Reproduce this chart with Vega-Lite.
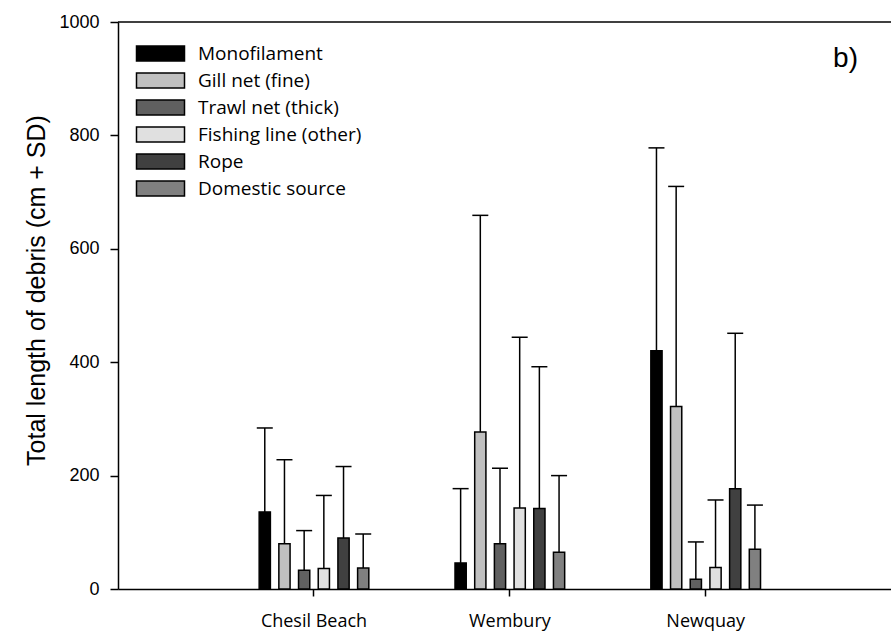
{
  "$schema": "https://vega.github.io/schema/vega-lite/v6.json",
  "width": 773,
  "height": 567,
  "autosize": "none",
  "padding": {"left": 118, "top": 22, "right": 0, "bottom": 48},
  "background": "white",
  "config": {"view": {"stroke": null}},
  "title": {"text": "b)", "orient": "top", "anchor": "end", "frame": "group", "offset": -60, "dx": -33, "fontSize": 28, "font": "Liberation Sans", "fontWeight": "normal", "color": "black"},
  "data": {"values": [
    {"site": "Chesil Beach", "type": "Monofilament", "total": 136, "upper": 284},
    {"site": "Chesil Beach", "type": "Gill net (fine)", "total": 80, "upper": 228},
    {"site": "Chesil Beach", "type": "Trawl net (thick)", "total": 33, "upper": 103},
    {"site": "Chesil Beach", "type": "Fishing line (other)", "total": 36, "upper": 165},
    {"site": "Chesil Beach", "type": "Rope", "total": 90, "upper": 216},
    {"site": "Chesil Beach", "type": "Domestic source", "total": 37, "upper": 97},
    {"site": "Wembury", "type": "Monofilament", "total": 46, "upper": 177},
    {"site": "Wembury", "type": "Gill net (fine)", "total": 277, "upper": 659},
    {"site": "Wembury", "type": "Trawl net (thick)", "total": 80, "upper": 213},
    {"site": "Wembury", "type": "Fishing line (other)", "total": 143, "upper": 444},
    {"site": "Wembury", "type": "Rope", "total": 142, "upper": 392},
    {"site": "Wembury", "type": "Domestic source", "total": 65, "upper": 200},
    {"site": "Newquay", "type": "Monofilament", "total": 420, "upper": 778},
    {"site": "Newquay", "type": "Gill net (fine)", "total": 322, "upper": 710},
    {"site": "Newquay", "type": "Trawl net (thick)", "total": 17, "upper": 83},
    {"site": "Newquay", "type": "Fishing line (other)", "total": 38, "upper": 157},
    {"site": "Newquay", "type": "Rope", "total": 177, "upper": 451},
    {"site": "Newquay", "type": "Domestic source", "total": 70, "upper": 148}
  ]},
  "layer": [
    {
      "mark": {"type": "bar", "stroke": "black", "strokeWidth": 1.5},
      "encoding": {
        "x": {"field": "site", "type": "nominal", "sort": ["Chesil Beach", "Wembury", "Newquay"],
          "scale": {"paddingInner": 0.239, "paddingOuter": 0.593, "align": 0.523},
          "axis": {"title": null, "labelAngle": 0, "labelFont": "Open Sans", "labelFontSize": 18, "labelColor": "black", "tickSize": 7, "tickColor": "black", "tickWidth": 1.5, "domainColor": "black", "domainWidth": 1.5, "labelPadding": 16}},
        "xOffset": {"field": "type", "type": "nominal", "sort": ["Monofilament", "Gill net (fine)", "Trawl net (thick)", "Fishing line (other)", "Rope", "Domestic source"],
          "scale": {"paddingInner": 0.43, "paddingOuter": 1}},
        "y": {"field": "total", "type": "quantitative", "scale": {"domain": [0, 1000]},
          "axis": {"title": "Total length of debris (cm + SD)", "titleFont": "Liberation Sans", "titleFontSize": 25, "titleFontWeight": "normal", "titleColor": "black", "titlePadding": 9, "titleY": 268,
            "labelFont": "Liberation Sans", "labelFontSize": 18, "labelColor": "black", "labelPadding": 11, "format": "d",
            "values": [0, 200, 400, 600, 800, 1000], "grid": false, "tickSize": 8, "tickColor": "black", "tickWidth": 1.5, "domainColor": "black", "domainWidth": 1.5}},
        "color": {"field": "type", "type": "nominal",
          "scale": {"domain": ["Monofilament", "Gill net (fine)", "Trawl net (thick)", "Fishing line (other)", "Rope", "Domestic source"],
            "range": ["#000000", "#c0c0c0", "#606060", "#e0e0e0", "#404040", "#808080"]},
          "legend": {"title": null, "orient": "none", "legendX": 33, "legendY": 22, "padding": 0,
            "symbolType": "M-4.8,-1.5H4.8V1.5H-4.8Z", "symbolSize": 100, "symbolStrokeColor": "black", "symbolStrokeWidth": 1.5, "symbolOpacity": 1,
            "labelFont": "Open Sans", "labelFontSize": 19, "labelColor": "black", "labelOffset": 28, "rowPadding": 6, "labelLimit": 300}}
      }
    },
    {
      "mark": {"type": "rule", "color": "black", "strokeWidth": 1.5},
      "encoding": {
        "x": {"field": "site", "type": "nominal", "sort": ["Chesil Beach", "Wembury", "Newquay"]},
        "xOffset": {"field": "type", "type": "nominal", "sort": ["Monofilament", "Gill net (fine)", "Trawl net (thick)", "Fishing line (other)", "Rope", "Domestic source"]},
        "y": {"field": "total", "type": "quantitative"},
        "y2": {"field": "upper"}
      }
    },
    {
      "mark": {"type": "tick", "color": "black", "thickness": 1.5, "opacity": 1},
      "encoding": {
        "x": {"field": "site", "type": "nominal", "sort": ["Chesil Beach", "Wembury", "Newquay"]},
        "xOffset": {"field": "type", "type": "nominal", "sort": ["Monofilament", "Gill net (fine)", "Trawl net (thick)", "Fishing line (other)", "Rope", "Domestic source"]},
        "y": {"field": "upper", "type": "quantitative"},
        "size": {"value": 16}
      }
    },
    {
      "data": {"values": [{}]},
      "mark": {"type": "rule", "color": "black", "strokeWidth": 1.5},
      "encoding": {"y": {"datum": 1000}}
    }
  ]
}
